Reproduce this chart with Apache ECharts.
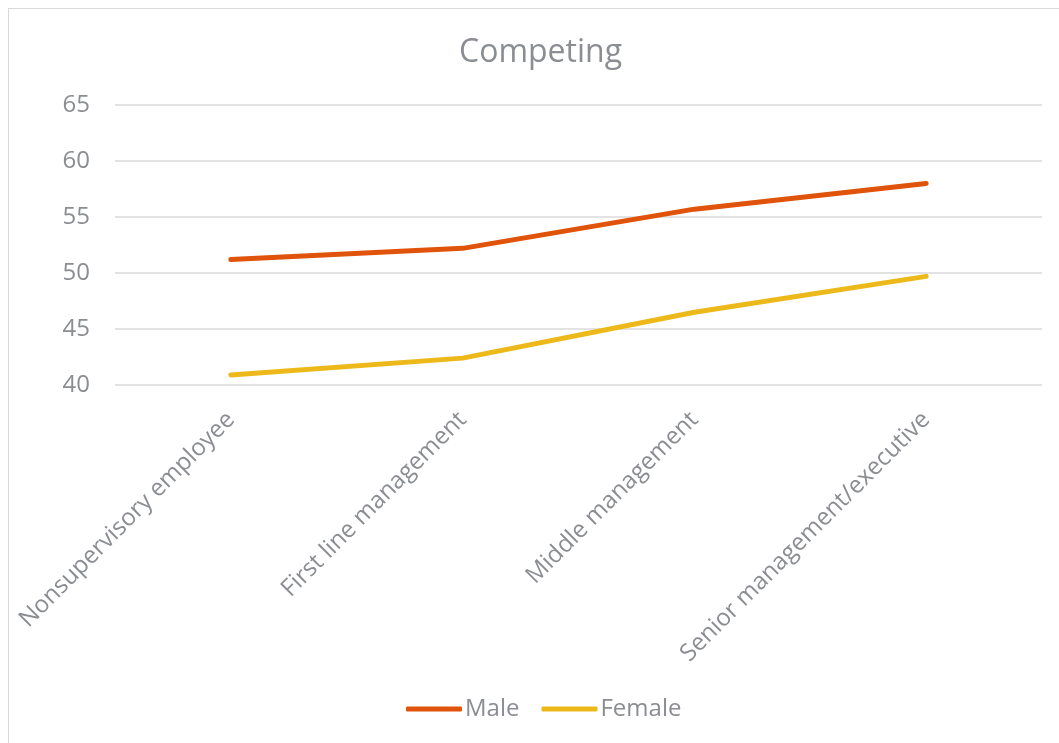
<!DOCTYPE html>
<html><head><meta charset="utf-8">
<script src="https://cdn.jsdelivr.net/npm/echarts@6/dist/echarts.min.js"></script>
<style>
html,body{margin:0;padding:0;background:#fff;}
#frame{position:absolute;left:8px;top:8px;width:1060px;height:745px;border:1px solid #d9d9d9;box-sizing:border-box;}
#chart{position:absolute;left:0;top:0;width:1059px;height:743px;}
</style></head>
<body>
<div id="frame"></div>
<div id="chart"></div>
<script>
const categories = ["Nonsupervisory employee","First line management","Middle management","Senior management/executive"];
const maleValues = [51.2, 52.2, 55.7, 58.0];
const femaleValues = [40.9, 42.4, 46.5, 49.7];
const yTicks = [40, 45, 50, 55, 60, 65];

const chart = echarts.init(document.getElementById('chart'), null, {renderer:'canvas'});
const font = '"Open Sans", "Noto Sans", sans-serif';
chart.setOption({
  animation:false,
  backgroundColor:'transparent',
  title:{text:'Competing',left:454,top:32,textStyle:{fontFamily:font,fontSize:32,fontWeight:'normal',color:'#8a8d91'}},
  legend:{bottom:17,left:401,itemWidth:56,itemHeight:5,itemGap:22,icon:'roundRect',
    textStyle:{fontFamily:font,fontSize:24,color:'#8a8d91',padding:[0,0,0,-2]},
    data:['Male','Female']},
  grid:{left:115,right:17,top:105,bottom:358,containLabel:false},
  xAxis:{type:'category',data:categories,boundaryGap:true,
    axisLine:{show:false},axisTick:{show:false},
    axisLabel:{rotate:45,interval:0,margin:31,fontFamily:font,fontSize:24,color:'#8a8d91'}},
  yAxis:{type:'value',min:yTicks[0],max:yTicks[yTicks.length-1],interval:5,
    axisLine:{show:false},axisTick:{show:false},
    axisLabel:{margin:25,fontFamily:font,fontSize:24,color:'#8a8d91'},
    splitLine:{lineStyle:{color:'#e3e3e3',width:2}}},
  series:[
    {name:'Male',type:'line',data:maleValues,symbol:'none',
     lineStyle:{color:'#e0530b',width:5,cap:'round',join:'round'},itemStyle:{color:'#e0530b'}},
    {name:'Female',type:'line',data:femaleValues,symbol:'none',
     lineStyle:{color:'#edb91a',width:5,cap:'round',join:'round'},itemStyle:{color:'#edb91a'}}
  ]
});
</script>
</body></html>
